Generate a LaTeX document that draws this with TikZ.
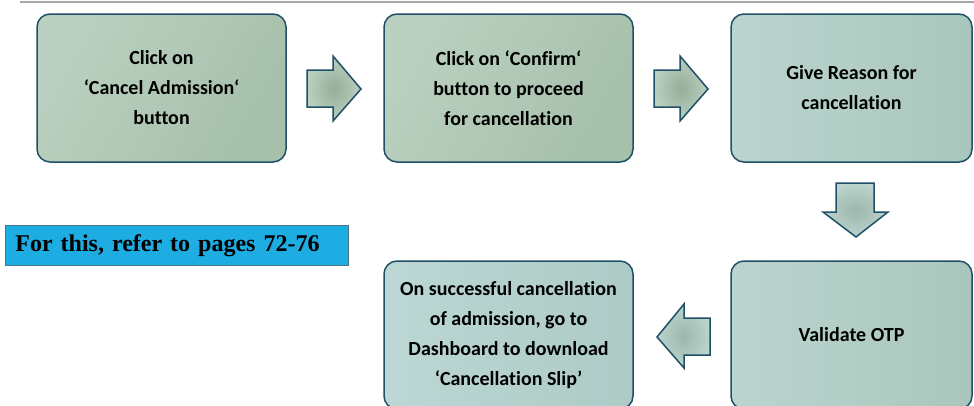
\documentclass[tikz,border=0pt]{standalone}
\usepackage{fontspec}
\setmainfont[Ligatures=NoCommon]{Carlito}
\newfontfamily\timesfont{Liberation Serif}
\definecolor{edgecol}{HTML}{1F5068}
\definecolor{gA}{HTML}{BBD0C0}
\definecolor{gB}{HTML}{A6C0AB}
\definecolor{tA}{HTML}{BBD5CE}
\definecolor{tB}{HTML}{A9C6BC}
\definecolor{bA}{HTML}{BCD7D4}
\definecolor{bB}{HTML}{ADCBC6}
\definecolor{noteblue}{HTML}{1EADE3}
\begin{document}
\begin{tikzpicture}[x=1pt,y=-1pt,
  stepbox/.style={draw=edgecol,line width=1.5pt,rounded corners=13pt,
    minimum width=249pt,minimum height=148pt,align=center,
    font=\fontsize{20}{30}\selectfont\bfseries,text=black},
  greenfill/.style={left color=gA,right color=gB,shading angle=60},
  tealfill/.style={left color=tA,right color=tB},
  bluefill/.style={left color=bA,right color=bB},
  blockarrow/.style={draw=edgecol,line width=1.5pt,inner color=gB!90!black,outer color=gA},
  blockarrowb/.style={draw=edgecol,line width=1.5pt,inner color=tB!92!black,outer color=tA}]
\useasboundingbox (0,0) rectangle (974,405);
\clip (0,0) rectangle (974,405);
\draw[line width=1.2pt,gray!70] (20,2) -- (974,2);
\node[stepbox,greenfill] (s1) at (161.5,88) {Click on\\‘Cancel Admission‘\\button};
\node[stepbox,greenfill] (s2) at (508.5,88) {Click on ‘Confirm‘\\button to proceed\\for cancellation};
\node[stepbox,tealfill,minimum width=241pt] (s3) at (851.5,88) {Give Reason for\\cancellation};
\node[stepbox,tealfill,minimum width=241pt] (s4) at (851.5,335) {Validate OTP};
\node[stepbox,bluefill] (s5) at (508.5,335) {On successful cancellation\\of admission, go to\\Dashboard to download\\‘Cancellation Slip’};
% block arrows
\draw[blockarrow] (307,70) -- (333,70) -- (333,56) -- (361,89) -- (333,121) -- (333,107) -- (307,107) -- cycle;
\draw[blockarrow] (654,70) -- (680,70) -- (680,56) -- (708,89) -- (680,121) -- (680,107) -- (654,107) -- cycle;
\draw[blockarrowb] (836,183) -- (874,183) -- (874,212) -- (888,212) -- (856,237) -- (823,212) -- (836,212) -- cycle;
\draw[blockarrowb] (710,318) -- (684,318) -- (684,304) -- (657,337) -- (684,368) -- (684,355) -- (710,355) -- cycle;
% note
\node[draw=edgecol!80,line width=0.8pt,fill=noteblue,minimum width=343pt,minimum height=40pt,
  text width=323pt,align=left,anchor=north west,inner sep=0pt,inner xsep=10pt,text=black,
  font=\timesfont\fontsize{24}{28}\selectfont\bfseries] (note) at (5,225)
  {For this, refer to pages 72-76};
\end{tikzpicture}
\end{document}
